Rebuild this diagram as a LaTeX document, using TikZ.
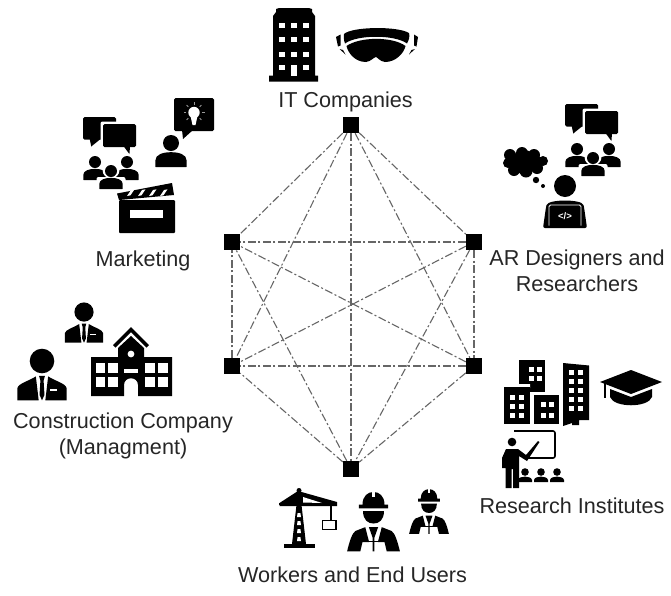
\documentclass[tikz,border=0pt]{standalone}
\usepackage{fontspec}
\usetikzlibrary{calc}
\setmainfont{Liberation Sans}
\tikzset{
  hub/.style={fill=black,draw=none,minimum size=16pt,inner sep=0pt,rectangle},
  link/.style={draw=black!60,line width=1.1pt,dash pattern=on 8pt off 2.5pt on 2pt off 2.5pt},
  lab/.style={font=\fontsize{21.6}{26}\selectfont,text=black!85,align=center,inner sep=0pt}
}
\newcommand{\bust}[3]{\begin{scope}[shift={(#1,#2)},scale=#3]
\fill (0,0) circle (1);
\fill[rounded corners=0.3pt] (-1.95,3) -- (-1.95,2.2) .. controls (-1.95,1.45) and (-1,1.15) .. (0,1.15) .. controls (1,1.15) and (1.95,1.45) .. (1.95,2.2) -- (1.95,3) -- cycle;
\end{scope}}
\newcommand{\bubR}[4]{\fill[rounded corners=1.5pt] (#1,#2) rectangle ++(#3,#4);\fill ({#1+#3*0.62},{#2+#4-1}) -- ({#1+#3*0.8},{#2+#4+7}) -- ({#1+#3*0.82},{#2+#4-1}) -- cycle;}
\newcommand{\bubL}[4]{\fill[rounded corners=1.5pt] (#1,#2) rectangle ++(#3,#4);\fill ({#1+#3*0.2},{#2+#4-1}) -- ({#1+#3*0.25},{#2+#4+7}) -- ({#1+#3*0.55},{#2+#4-1}) -- cycle;}
\newcommand{\chatgroup}[2]{\begin{scope}[shift={(#1,#2)}]
\bubL{0}{0}{33}{22.5}
\fill[white,rounded corners=2pt] (17.5,4.5) rectangle ++(37,27);
\bubR{20}{7}{33}{23}
\bust{12}{45}{6}
\bust{44}{45}{6}
\fill[white] (28,53) circle (8.5);
\fill[white,rounded corners=2pt] (13.5,60) rectangle (42.5,74);
\bust{28}{54}{6}
\end{scope}}
\newcommand{\suit}[3]{\begin{scope}[shift={(#1,#2)},scale=#3]
\fill (0,0) circle (1);
\fill (-2,3.2) -- (-2,2.2) .. controls (-1.9,1.8) and (-1,1.6) .. (-0.5,1.25) -- (-0.27,3.2) -- cycle;
\fill (2,3.2) -- (2,2.2) .. controls (1.9,1.8) and (1,1.6) .. (0.5,1.25) -- (0.27,3.2) -- cycle;
\fill (-0.24,1.2) -- (0.24,1.2) -- (0.13,1.6) -- (0.2,2.75) -- (0,3.2) -- (-0.2,2.75) -- (-0.13,1.6) -- cycle;
\fill[white] (0.65,2.3) rectangle (1.25,2.42);
\end{scope}}
\newcommand{\worker}[3]{\begin{scope}[shift={(#1,#2)},scale=#3]
\fill (-0.95,0.2) -- (0.95,0.2) .. controls (0.95,1) and (0.5,1.32) .. (0,1.32) .. controls (-0.5,1.32) and (-0.95,1) .. (-0.95,0.2) -- cycle;
\fill (-1,-0.4) .. controls (-1,-1.2) and (-0.5,-1.55) .. (0,-1.55) .. controls (0.5,-1.55) and (1,-1.2) .. (1,-0.4) -- (1.32,-0.4) -- (1.32,-0.05) -- (-1.32,-0.05) -- (-1.32,-0.4) -- cycle;
\fill[white] (-0.13,-1.6) rectangle (0.13,-1.05);
\fill (-0.75,1.65) -- (-1.65,2) .. controls (-1.95,2.2) and (-2.2,3) .. (-2.4,3.85) -- (-1.2,3.85) -- (-1,3) -- (-0.4,3) -- cycle;
\fill (0.75,1.65) -- (1.65,2) .. controls (1.95,2.2) and (2.2,3) .. (2.4,3.85) -- (1.2,3.85) -- (1,3) -- (0.4,3) -- cycle;
\fill (-0.42,1.65) -- (0.42,1.65) -- (0.08,2.6) -- (0.08,3.85) -- (-0.08,3.85) -- (-0.08,2.6) -- cycle;
\fill (-1,2.87) rectangle (1,3);
\end{scope}}
\newcommand{\tinyperson}[2]{\fill (#1,#2) circle (3.8);\fill ({#1-7},{#2+10}) -- ({#1-7},{#2+8}) .. controls ({#1-6.5},{#2+5.5}) and ({#1-3},{#2+4.6}) .. (#1,{#2+4.6}) .. controls ({#1+3},{#2+4.6}) and ({#1+6.5},{#2+5.5}) .. ({#1+7},{#2+8}) -- ({#1+7},{#2+10}) -- cycle;}
\begin{document}
\begin{tikzpicture}[x=1pt,y=-1pt]
\useasboundingbox (0,0) rectangle (671,595);
\fill[white] (0,0) rectangle (671,595);

\node[hub] (it) at (351,125) {};
\node[hub] (ar) at (474,242) {};
\node[hub] (ri) at (474,366) {};
\node[hub] (wk) at (351,469) {};
\node[hub] (cc) at (232,366) {};
\node[hub] (mk) at (232,242) {};
\foreach \a/\b in {it/ar,it/ri,it/wk,it/cc,it/mk,ar/ri,ar/wk,ar/cc,ar/mk,ri/wk,ri/cc,ri/mk,wk/cc,wk/mk,cc/mk}
  \draw[link] (\a) -- (\b);

\node[lab] (lit) at (345.5,101.5) {IT Companies};
\node[lab] (lar) at (577,271) {AR Designers and\\Researchers};
\node[lab] (lmk) at (143,261) {Marketing};
\node[lab] (lcc) at (123,436) {Construction Company\\(Managment)};
\node[lab] (lri) at (572,506) {Research Institutes};
\node[lab] (lwk) at (352.5,575) {Workers and End Users};

% IT: tower
\fill (273,16) -- (276,12) -- (276,9) -- (279,8) -- (309,8) -- (312,9) -- (312,12) -- (315,16) -- (315,75.5) -- (318,75.5) -- (318,81.5) -- (269,81.5) -- (269,75.5) -- (273,75.5) -- cycle;
\foreach \yy in {23,37,51.5}
  \foreach \xx in {279.3,291.3,303.3} \fill[white] (\xx,\yy) rectangle ++(5.2,5.2);
\fill[white] (279.3,65) rectangle ++(5.2,5.2);
\fill[white] (303.3,65) rectangle ++(5.2,5.2);
\fill[white] (291.3,65) rectangle ++(5.2,10.5);
% IT: headset
\fill (344,34) .. controls (352,26.5) and (398,26) .. (409,33) .. controls (410,36) and (409,40) .. (407,43.5) .. controls (395,34.5) and (357,34.5) .. (345,43.5) .. controls (344,41) and (343.5,37) .. (344,34) -- cycle;
\fill (346.5,46) .. controls (360,36.5) and (393,36.5) .. (405.5,46) .. controls (404,53) and (396,62) .. (385,62) .. controls (380,61.5) and (377,57) .. (376,57) .. controls (374,57) and (371,61.5) .. (366,62) .. controls (355,62) and (348,53) .. (346.5,46) -- cycle;
\fill (336,37) -- (340.5,34.5) -- (340.5,45.5) -- (338,46.5) -- cycle;
\fill (418,37) -- (414,34.5) -- (414,45.5) -- (416.5,46.5) -- cycle;
\fill (339.5,49) -- (343,50) -- (345.5,54.5) -- cycle;
\fill (415,49) -- (411.5,50) -- (409,54.5) -- cycle;

% Marketing
\chatgroup{83}{117}
\fill[rounded corners=1.5pt] (174,98) rectangle (214,131);
\fill (182,130) -- (183,139) -- (193,130) -- cycle;
\fill[white] (194,112.5) circle (5.7);
\fill[white] (190.5,116) -- (197.5,116) -- (195.5,125) -- (192.5,125) -- cycle;
\foreach \ang in {0,45,135,180,225,315,270} \draw[black!40,line width=0.8pt] ($(194,112.5)+(\ang:8)$) -- ($(194,112.5)+(\ang:10.5)$);
\bust{171}{143}{8}
% clapper
\fill[rounded corners=1pt] (119,200) rectangle (175,233);
\fill[white] (130,209.5) rectangle (163,218);
\fill (117,193.5) -- (172,183) -- (174,195) -- (119,200) -- cycle;
\foreach \xx in {127,138,149,160} \fill[white] (\xx,196) -- (\xx+4,190) -- (\xx+7.5,189.3) -- (\xx+3.5,195.3) -- cycle;

% AR designers
\chatgroup{565}{104}
\foreach \cx/\cy/\rr in {510/155/6, 522/153/6, 534/155/6, 543/161/5, 537/168/6, 526/171/6.5, 514/170/6, 508/163/5, 524/162/12, 514/161/7, 534/161/7}
  \fill (\cx,\cy) circle (\rr);
\fill (536,180) circle (3.2);
\fill (543,186) circle (2);
\fill (565,186) circle (11);
\fill[rounded corners=2pt] (543,228) -- (546,207) .. controls (548,199) and (582,199) .. (584,207) -- (587,228) -- cycle;
\draw[white,line width=0.9pt,rounded corners=1.5pt] (549,225.5) -- (549,205) -- (581,205) -- (581,225.5);
\node[text=white,inner sep=0pt,font=\fontsize{9.5}{10}\selectfont\bfseries] (code) at (565,216) {</>};

% Construction
\suit{84}{312}{9.6}
\suit{42}{361}{12.3}
% school
\fill (91,396) -- (91,357) -- (118,357) -- (118,348) -- (131,336) -- (144,348) -- (144,357) -- (172,357) -- (172,396) -- (138,396) -- (138,385) .. controls (138,376) and (124,376) .. (124,385) -- (124,396) -- cycle;
\fill (113,345) -- (131,327) -- (149,345) -- (146.5,347.5) -- (131,332) -- (115.5,347.5) -- cycle;
\fill[white] (131,354) circle (3.4);
\foreach \xx in {95.5,108,145,158} \foreach \yy in {363,377} \fill[white] (\xx,\yy) rectangle ++(9.5,9.5);
\fill[white] (124,369) rectangle ++(14,3.5);

% Research institutes
\fill (519,360) rectangle (545,392);
\fill[white] (530,388) -- (530,384) -- (504,384) -- (504,387) -- cycle;
\fill (504,387) rectangle (530,424);
\fill[white] (530,392) rectangle (534,424);
\fill (534,395) rectangle (559,424);
\fill (563,363) -- (589,365.5) -- (589,420) -- (579,420) -- (579,425) -- (572,425) -- (572,423) -- (563,426) -- cycle;
\foreach \xx in {529,537} \foreach \yy in {367,376} \fill[white] (\xx,\yy) rectangle ++(5,5);
\foreach \xx in {510,519} \foreach \yy in {395,404,413} \fill[white] (\xx,\yy) rectangle ++(4.5,5);
\foreach \xx in {541,549} \foreach \yy in {402,413} \fill[white] (\xx,\yy) rectangle ++(4.5,5);
\foreach \xx in {569,578} \foreach \yy in {370,379,388,397,406} \fill[white] (\xx,\yy) rectangle ++(5,5);
% cap
\fill (600,382) -- (631,370) -- (662,382) -- (631,394) -- cycle;
\fill (610,389) -- (631,397) -- (652,389) -- (652,397) .. controls (648,408) and (614,408) .. (610,397) -- cycle;
\fill (603.5,383) rectangle (605.5,398);
% teacher
\draw[line width=1.6pt,rounded corners=2pt] (514,431) -- (555,431) -- (555,458) -- (527,458);
\fill (512,442) circle (4.3);
\fill (506,449) -- (518,449) -- (526,455) -- (538,441) -- (539.5,442) -- (527,461) -- (519,456) -- (519,488) -- (513,488) -- (513,469) -- (511.5,469) -- (511.5,488) -- (505.5,488) -- (505.5,468) -- (502,468) -- (502,458) -- cycle;
\tinyperson{525}{472}
\tinyperson{541}{472}
\tinyperson{557}{472}

% Workers: crane
\draw[line width=2.6pt] (279,504) -- (337,504);
\fill (299,490.5) circle (2.5);
\fill (279.5,503) -- (298,491) -- (337,502) -- (337,506) -- (279.5,506) -- cycle;
\fill[white] (303,502.5) -- (322,503) -- (303,497) -- cycle;
\fill (296.5,505) -- (301.5,505) -- (306,544) -- (292,544) -- cycle;
\foreach \yy in {513,521,529,537} \fill[white] (297.6,\yy) -- (300.4,\yy) -- (301,\yy+4) -- (297,\yy+4) -- cycle;
\fill (284,544) rectangle (315,548);
\draw[line width=1.4pt] (331,506) -- (331,520);
\draw[line width=1.6pt] (322.5,520.5) rectangle (336,529.5);
\worker{373.5}{509}{11}
\worker{429}{502}{8.3}
\end{tikzpicture}
\end{document}
